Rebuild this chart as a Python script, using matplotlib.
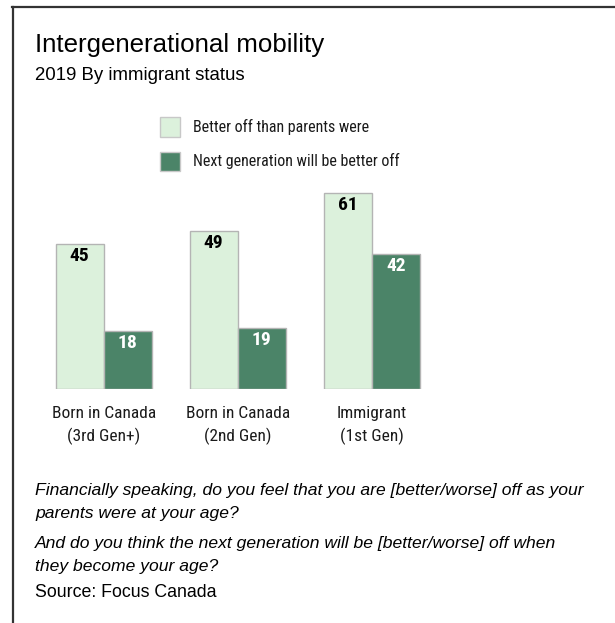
import numpy as np
import matplotlib
matplotlib.use("Agg")
import matplotlib.pyplot as plt
from matplotlib.lines import Line2D

groups = ["Born in Canada\n(3rd Gen+)", "Born in Canada\n(2nd Gen)", "Immigrant\n(1st Gen)"]
better_than_parents = [45, 49, 61]
next_gen_better = [18, 19, 42]
series_names = ["Better off than parents were", "Next generation will be better off"]

light = "#dcf1dc"
dark = "#4b8468"
edge = "#b4b4b4"
narrow = dict(family=["Roboto Condensed", "DejaVu Sans"], stretch="condensed")

W, H = 615, 623
fig = plt.figure(figsize=(W / 100, H / 100), dpi=100)

def fx(px):
    return px / W

def fy(py):
    return 1 - py / H

# bar area: baseline at 389px, group spacing 134px
ax = fig.add_axes([fx(40), fy(389), fx(400), (389 - 180) / H])
x = np.arange(len(groups))
w = 0.358
b1 = ax.bar(x - w / 2, better_than_parents, w, color=light, edgecolor=edge, linewidth=1)
b2 = ax.bar(x + w / 2, next_gen_better, w, color=dark, edgecolor=edge, linewidth=1)
ax.set_xlim(-0.475, 2.51)
ax.set_ylim(0, 209 / 3.22)
ax.axis("off")

for bars, vals, col in [(b1, better_than_parents, "black"), (b2, next_gen_better, "white")]:
    for r, v in zip(bars, vals):
        ax.text(r.get_x() + r.get_width() / 2, v - 1.0, str(v), ha="center", va="top",
                fontsize=14, fontweight="bold", color=col, **narrow)

for xi, g in zip(x, groups):
    ax.text(xi, -5.3, g, ha="center", va="top", fontsize=12.5,
            linespacing=1.5, color="#1a1a1a", **narrow)

# titles
fig.text(fx(35), fy(52), "Intergenerational mobility", fontsize=18.6,
         family="Liberation Sans", va="baseline")
fig.text(fx(35), fy(80), "2019 By immigrant status", fontsize=13.4,
         family="Liberation Sans", va="baseline")

# legend
for i, (name, col) in enumerate(zip(series_names, [light, dark])):
    top = 117.5 + i * 34
    fig.patches.append(plt.Rectangle((fx(159.5), fy(top + 19.5)), fx(20.5), 19.5 / H,
                                     transform=fig.transFigure, facecolor=col,
                                     edgecolor="#c8c8c8", linewidth=1))
    fig.text(fx(193), fy(top + 9.5), name, fontsize=11.5, va="center",
             color="#1a1a1a", **narrow)

# question notes and source
notes = [
    (495, "Financially speaking, do you feel that you are [better/worse] off as your"),
    (518, "parents were at your age?"),
    (548, "And do you think the next generation will be [better/worse] off when"),
    (571, "they become your age?"),
]
for y, t in notes:
    fig.text(fx(35), fy(y), t, fontsize=12.6, style="italic",
             family="Liberation Sans", va="baseline")
fig.text(fx(35), fy(597), "Source: Focus Canada", fontsize=12.8,
         family="Liberation Sans", va="baseline")

# frame on top and left
fig.add_artist(Line2D([fx(12), 1], [fy(7), fy(7)], color="#333333", linewidth=1.6))
fig.add_artist(Line2D([fx(12.5), fx(12.5)], [fy(7), 0], color="#333333", linewidth=1.6))

fig.savefig("out.png", dpi=100)
